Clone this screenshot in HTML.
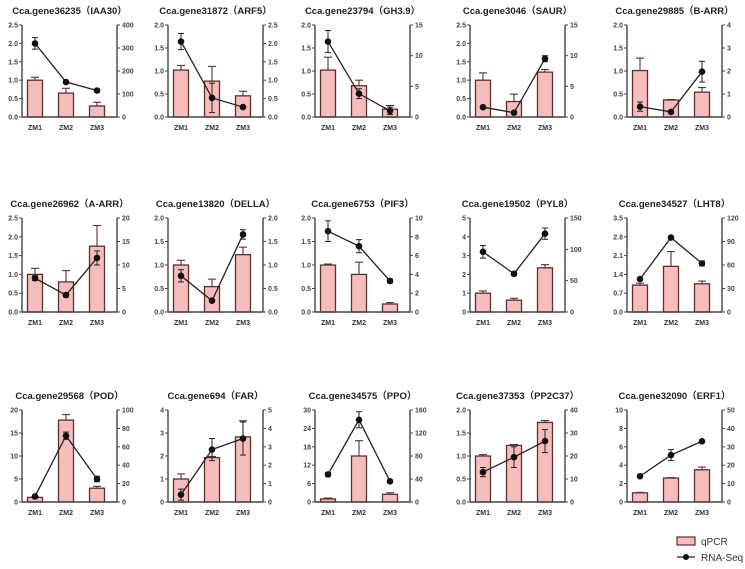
<!DOCTYPE html>
<html><head><meta charset="utf-8"><style>
body{margin:0;background:#fff;}
svg{display:block;font-family:"Liberation Sans","Noto Sans CJK SC",sans-serif;}
</style></head><body>
<svg id="c" width="745" height="569"></svg>
<script>
const titles=["Cca.gene36235（IAA30）","Cca.gene31872（ARF5）","Cca.gene23794（GH3.9）","Cca.gene3046（SAUR）","Cca.gene29885（B-ARR）",
"Cca.gene26962（A-ARR）","Cca.gene13820（DELLA）","Cca.gene6753（PIF3）","Cca.gene19502（PYL8）","Cca.gene34527（LHT8）",
"Cca.gene29568（POD）","Cca.gene694（FAR）","Cca.gene34575（PPO）","Cca.gene37353（PP2C37）","Cca.gene32090（ERF1）"];
const categories=["ZM1","ZM2","ZM3"];
const leftMax=[2.5,2,2,2.5,2, 2.5,2,2,5,3.5, 20,4,30,2,10];
const leftStep=[0.5,0.5,0.5,0.5,0.5, 0.5,0.5,0.5,1,0.7, 5,1,6,0.5,2];
const rightMax=[400,2.5,15,15,4, 20,2,10,150,120, 100,5,160,40,50];
const rightStep=[100,0.5,5,5,1, 5,0.5,2,50,30, 20,1,40,10,10];
const qpcr=[[1,0.65,0.3],[1.02,0.78,0.46],[1.02,0.68,0.17],[1,0.42,1.22],[1.01,0.37,0.54],
[1,0.8,1.75],[1,0.54,1.22],[1,0.8,0.17],[1,0.63,2.35],[1,1.7,1.05],
[1,17.8,3],[1,1.93,2.83],[1,15,2.5],[1,1.23,1.73],[1,2.6,3.5]];
const qpcrErr=[[0.08,0.13,0.1],[0.1,0.32,0.1],[0.28,0.12,0.08],[0.2,0.2,0.07],[0.27,0.01,0.1],
[0.16,0.3,0.55],[0.1,0.16,0.16],[0.02,0.26,0.03],[0.12,0.1,0.17],[0.07,0.55,0.1],
[0.1,1.2,0.4],[0.22,0.05,0.7],[0.3,5,0.5],[0.03,0.02,0.04],[0.05,0.05,0.3]];
const rnaseq=[[320,152,115],[2.05,0.52,0.27],[12.3,3.8,1.0],[1.6,0.7,9.5],[0.45,0.22,1.97],
[7.2,3.6,11.5],[0.77,0.24,1.65],[8.6,7.0,3.3],[96,61,125],[42,95,62],
[6,72,25],[0.4,2.85,3.45],[48,143,36],[13,19.5,26.5],[14,25.5,33]];
const rnaErr=[[25,4,6],[0.22,0.4,0.02],[1.8,0.8,0.6],[0.2,0.2,0.5],[0.2,0.03,0.45],
[0.5,0.4,1.5],[0.13,0.02,0.1],[1.1,0.7,0.2],[10,3,9],[1,1,3],
[1,4,3],[0.3,0.6,0.9],[3,14,2],[2,4.5,5],[0.5,3,0.5]];

const NS="http://www.w3.org/2000/svg";
const svg=document.getElementById('c');
function mk(tag,attrs,parent){const e=document.createElementNS(NS,tag);for(const k in attrs)e.setAttribute(k,attrs[k]);(parent||svg).appendChild(e);return e;}
const colX=[22,168,315,470,627];
const rowTop=[25,218,410], rowBot=[117,312,502];
const axisC="#444", W=95;
function fmt(v,s){return s<1?v.toFixed(1):String(Math.round(v));}
for(let p=0;p<15;p++){
  const r=Math.floor(p/5),c=p%5,x0=colX[c],x1=x0+W,yt=rowTop[r],yb=rowBot[r];
  const g=mk('g',{});
  
  
  const yL=v=>yb-(v/leftMax[p])*(yb-yt);
  const yR=v=>yb-(v/rightMax[p])*(yb-yt);
  const xC=i=>x0+13+31*i;
  const t=mk('text',{x:(x0+x1)/2,y:yt-11,'text-anchor':'middle','font-size':'9.5','font-weight':'bold',fill:'#222'},g);
  t.textContent=titles[p];
  
  
  for(let i=0;i<3;i++){
    const v=qpcr[p][i],e=qpcrErr[p][i],y=yL(v),cx=xC(i);
    mk('line',{x1:cx,x2:cx,y1:y,y2:yL(v+e),stroke:'#5a3030','stroke-width':1.1},g);
    mk('line',{x1:cx-4,x2:cx+4,y1:yL(v+e),y2:yL(v+e),stroke:'#5a3030','stroke-width':1.1},g);
    const b=mk('rect',{x:cx-7.5,y:y,width:15,height:yb-y,fill:'#f7bdbd',stroke:'#5a3030','stroke-width':1.3},g);
    
    
    const l=mk('text',{x:cx,y:yb+13,'text-anchor':'middle','font-size':'7','font-weight':'bold',fill:'#333'},g);
    l.textContent=categories[i];
  }
  mk('line',{x1:x0,x2:x0,y1:yt,y2:yb,stroke:axisC,'stroke-width':1.4},g);
  mk('line',{x1:x1,x2:x1,y1:yt,y2:yb,stroke:axisC,'stroke-width':1.4},g);
  mk('line',{x1:x0,x2:x1,y1:yb,y2:yb,stroke:axisC,'stroke-width':1.4},g);
  const nL=Math.round(leftMax[p]/leftStep[p]);
  for(let k=0;k<=nL;k++){const v=k*leftStep[p],y=yL(v);
    mk('line',{x1:x0-3,x2:x0,y1:y,y2:y,stroke:axisC,'stroke-width':1},g);
    const tx=mk('text',{x:x0-4,y:y+2.5,'text-anchor':'end','font-size':'7','font-weight':'bold',fill:'#444'},g);tx.textContent=fmt(v,leftStep[p]);}
  const nR=Math.round(rightMax[p]/rightStep[p]);
  for(let k=0;k<=nR;k++){const v=k*rightStep[p],y=yR(v);
    mk('line',{x1:x1,x2:x1+3,y1:y,y2:y,stroke:axisC,'stroke-width':1},g);
    const tx=mk('text',{x:x1+5,y:y+2.5,'text-anchor':'start','font-size':'7','font-weight':'bold',fill:'#444'},g);tx.textContent=fmt(v,rightStep[p]);}
  const pts=rnaseq[p].map((v,i)=>xC(i)+','+yR(v)).join(' ');
  const pl=mk('polyline',{points:pts,fill:'none',stroke:'#222','stroke-width':1.3},g);
  
  
  for(let i=0;i<3;i++){
    const v=rnaseq[p][i],e=rnaErr[p][i],cx=xC(i);
    mk('line',{x1:cx,x2:cx,y1:yR(v-e),y2:yR(v+e),stroke:'#222','stroke-width':1},g);
    mk('line',{x1:cx-3,x2:cx+3,y1:yR(v+e),y2:yR(v+e),stroke:'#222','stroke-width':1},g);
    mk('line',{x1:cx-3,x2:cx+3,y1:yR(v-e),y2:yR(v-e),stroke:'#222','stroke-width':1},g);
    const d=mk('circle',{cx:cx,cy:yR(v),r:3.3,fill:'#111'},g);
    
    
  }
}
const lg=mk('g',{});


mk('rect',{x:677,y:537,width:18,height:8,fill:'#f7bdbd',stroke:'#5a3030','stroke-width':1.2},lg);
const l1=mk('text',{x:701,y:545,'font-size':'10',fill:'#333'},lg);l1.textContent='qPCR';
mk('line',{x1:677,x2:695,y1:557,y2:557,stroke:'#222','stroke-width':1.2},lg);
mk('circle',{cx:686,cy:557,r:3,fill:'#111'},lg);
const l2=mk('text',{x:701,y:561,'font-size':'10',fill:'#333'},lg);l2.textContent='RNA-Seq';
</script>
</body></html>
